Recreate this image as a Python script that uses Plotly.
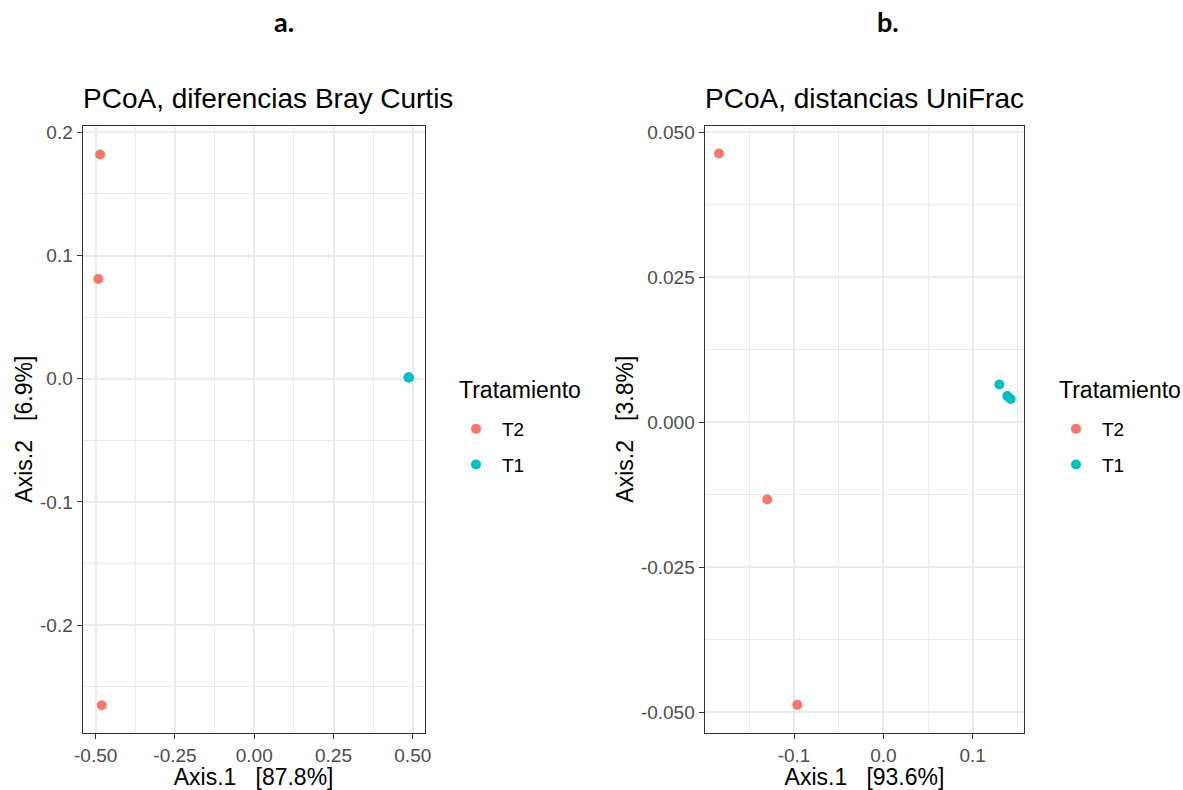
import plotly.graph_objects as go

# ---- data ----
groups = ["T2", "T1"]
colors = {"T2": "#F8766D", "T1": "#00BFC4"}

# Panel a: PCoA, Bray Curtis
bc_axis1_T2 = [-0.486, -0.492, -0.481]
bc_axis2_T2 = [0.182, 0.081, -0.265]
bc_axis1_T1 = [0.487, 0.487, 0.487]
bc_axis2_T1 = [0.001, 0.001, 0.001]

# Panel b: PCoA, UniFrac
uf_axis1_T2 = [-0.184, -0.130, -0.0963]
uf_axis2_T2 = [0.0463, -0.0133, -0.0487]
uf_axis1_T1 = [0.1298, 0.1388, 0.1425]
uf_axis2_T1 = [0.0065, 0.0045, 0.0040]

# tick labels
a_xticks = [-0.5, -0.25, 0.0, 0.25, 0.5]
a_xlabels = ["-0.50", "-0.25", "0.00", "0.25", "0.50"]
a_yticks = [-0.2, -0.1, 0.0, 0.1, 0.2]
a_ylabels = ["-0.2", "-0.1", "0.0", "0.1", "0.2"]
b_xticks = [-0.1, 0.0, 0.1]
b_xlabels = ["-0.1", "0.0", "0.1"]
b_yticks = [-0.05, -0.025, 0.0, 0.025, 0.05]
b_ylabels = ["-0.050", "-0.025", "0.000", "0.025", "0.050"]

titles = ["PCoA, diferencias Bray Curtis", "PCoA, distancias UniFrac"]
xtitles = ["Axis.1\u00a0\u00a0\u00a0[87.8%]", "Axis.1\u00a0\u00a0\u00a0[93.6%]"]
ytitles = ["Axis.2\u00a0\u00a0\u00a0[6.9%]", "Axis.2\u00a0\u00a0\u00a0[3.8%]"]
panel_labels = ["a.", "b."]
legend_title = "Tratamiento"

W, H = 1183, 790
FONT = "Liberation Sans, Arial, sans-serif"

fig = go.Figure()

panel_data = {
    "a": {"T2": (bc_axis1_T2, bc_axis2_T2), "T1": (bc_axis1_T1, bc_axis2_T1)},
    "b": {"T2": (uf_axis1_T2, uf_axis2_T2), "T1": (uf_axis1_T1, uf_axis2_T1)},
}
for key, xa, ya, leg in [("a", "x", "y", "legend"), ("b", "x2", "y2", "legend2")]:
    for g in groups:
        xs, ys = panel_data[key][g]
        fig.add_trace(go.Scatter(
            x=xs, y=ys, mode="markers", name=g, xaxis=xa, yaxis=ya,
            legend=leg, legendgroup=key + g,
            marker=dict(color=colors[g], size=10, line=dict(width=0)),
            hoverinfo="skip",
        ))

ytop = 1 - 125.7 / H
ybot = 1 - 732.7 / H

def axis_common():
    return dict(
        showline=True, mirror=True, linecolor="#333333", linewidth=1.3,
        ticks="outside", ticklen=5, tickwidth=1.3, tickcolor="#333333",
        tickfont=dict(family=FONT, size=19, color="#4D4D4D"),
        showgrid=True, gridcolor="#EBEBEB", gridwidth=1.6,
        zeroline=False, tickmode="array", automargin=False,
        title_font=dict(family=FONT, size=23, color="#000000"),
    )

legend_common = dict(
    xanchor="left", yanchor="top",
    font=dict(family=FONT, size=19, color="#000000"),
    traceorder="grouped", tracegroupgap=8, bgcolor="rgba(0,0,0,0)",
    itemwidth=42,
)

fig.update_layout(
    width=W, height=H,
    margin=dict(l=0, r=0, t=0, b=0),
    paper_bgcolor="white", plot_bgcolor="white",
    showlegend=True,
    xaxis=dict(**axis_common(), domain=[82.7 / W, 424.5 / W], range=[-0.541, 0.537],
               tickvals=a_xticks, ticktext=a_xlabels, anchor="y",
               minor=dict(tickvals=[-0.375, -0.125, 0.125, 0.375], showgrid=True,
                          gridcolor="#EBEBEB", gridwidth=0.8, ticks=""),
               title=dict(text=xtitles[0], standoff=6)),
    yaxis=dict(**axis_common(), domain=[ybot, ytop], range=[-0.2873, 0.2054],
               tickvals=a_yticks, ticktext=a_ylabels, anchor="x",
               minor=dict(tickvals=[-0.25, -0.15, -0.05, 0.05, 0.15], showgrid=True,
                          gridcolor="#EBEBEB", gridwidth=0.8, ticks=""),
               title=dict(text=ytitles[0], standoff=0)),
    xaxis2=dict(**axis_common(), domain=[704.7 / W, 1024.3 / W], range=[-0.2, 0.1578],
                tickvals=b_xticks, ticktext=b_xlabels, anchor="y2",
                minor=dict(tickvals=[-0.15, -0.05, 0.05, 0.15], showgrid=True,
                           gridcolor="#EBEBEB", gridwidth=0.8, ticks=""),
                title=dict(text=xtitles[1], standoff=6)),
    yaxis2=dict(**axis_common(), domain=[ybot, ytop], range=[-0.0535, 0.0511],
                tickvals=b_yticks, ticktext=b_ylabels, anchor="x2",
                minor=dict(tickvals=[-0.0375, -0.0125, 0.0125, 0.0375], showgrid=True,
                           gridcolor="#EBEBEB", gridwidth=0.8, ticks=""),
                title=dict(text=ytitles[1], standoff=0)),
    legend=dict(x=450 / W, y=1 - 410 / H, **legend_common),
    legend2=dict(x=1050 / W, y=1 - 410 / H, **legend_common),
)

# legend titles
for xl in [457, 1057]:
    fig.add_annotation(
        text=legend_title, xref="paper", yref="paper", x=xl / W, y=1 - 390 / H,
        xanchor="left", yanchor="middle", showarrow=False,
        font=dict(family=FONT, size=23, color="#000000"),
    )

# plot titles
for i, xl in enumerate([80.7, 702.7]):
    fig.add_annotation(
        text=titles[i], xref="paper", yref="paper", x=xl / W, y=1 - 116 / H,
        xanchor="left", yanchor="bottom", showarrow=False,
        font=dict(family=FONT, size=28, color="#000000"),
    )

# panel labels
for i, xc in enumerate([284, 888]):
    fig.add_annotation(
        text="<b>" + panel_labels[i] + "</b>", xref="paper", yref="paper",
        x=xc / W, y=1 - 40 / H, xanchor="center", yanchor="bottom", showarrow=False,
        font=dict(family="Lato, Open Sans, sans-serif", size=27, color="#000000"),
    )

fig.write_html("out.html")
